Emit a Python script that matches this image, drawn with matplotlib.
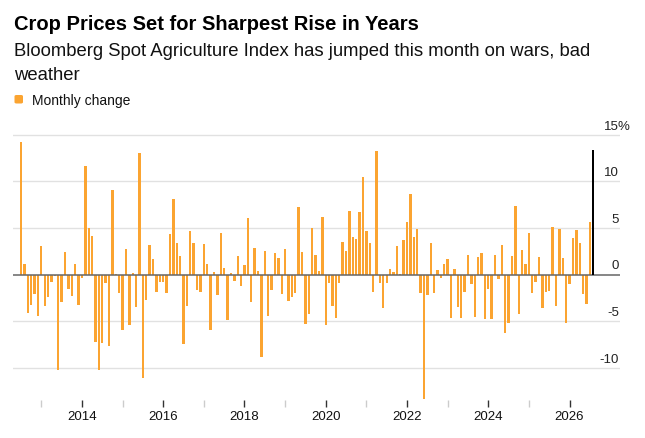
import matplotlib
matplotlib.use("Agg")
import matplotlib.pyplot as plt
import matplotlib.transforms as mtransforms
from matplotlib.patches import FancyBboxPatch
import pandas as pd

plt.rcParams['font.family'] = ['Liberation Sans', 'DejaVu Sans']

# monthly % change of the Bloomberg Spot Agriculture Index, Jul 2012 onwards
months = pd.date_range("2012-07-01", periods=170, freq="MS")
monthly_change = [
    14.25, 1.1, -4.1, -3.2, -2.1, -4.4, 3.1, -3.4, -2.4, -0.8,
    -0.1, -10.2, -2.9, 2.4, -1.5, -2.3, 1.1, -3.2, -0.4, 11.7,
    5.0, 4.1, -7.2, -10.2, -7.3, -0.9, -7.6, 9.1, 0.1, -2.0,
    -5.9, 2.8, -5.4, 0.2, -3.5, 13.1, -11.1, -2.7, 3.2, 1.7,
    -1.8, -0.8, -0.8, -2.0, 4.4, 8.1, 3.4, 2.0, -7.4, -3.4,
    4.7, 3.4, -1.6, -1.9, 3.3, 1.1, -5.9, 0.25, -2.2, 4.5,
    0.75, -4.9, 0.2, -0.65, 2.0, -1.2, 1.0, 6.1, -2.9, 2.9,
    0.4, -8.8, 2.5, -4.4, -1.6, 2.3, 1.75, -2.1, 2.8, -2.8,
    -2.4, -2.0, 7.3, 2.4, -5.25, -4.25, 5.0, 2.1, 0.4, 6.2,
    -5.35, -0.9, -3.3, -4.65, -0.9, 3.5, 2.5, 6.8, 4.0, 3.85,
    6.7, 10.5, 4.7, 3.35, -1.8, 13.3, -0.9, -3.6, -0.9, 0.6,
    0.3, 3.1, 0.05, 3.7, 5.7, 8.6, 4.0, 4.9, -2.0, -13.3,
    -2.2, 3.4, -2.0, 0.5, -0.4, 1.1, 1.65, -4.6, 0.6, -3.5,
    -4.6, -1.9, 2.1, -1.0, -4.5, 1.95, 2.3, -4.8, -1.5, -4.7,
    2.1, -0.5, 3.2, -6.2, -5.2, 2.0, 7.4, -4.25, 2.6, 1.15,
    4.5, -2.0, -0.75, 1.9, -3.6, -1.9, -1.7, 5.1, -3.4, 4.9,
    1.75, -5.2, -1.0, 3.9, 4.8, 3.4, -2.1, -3.1, 5.6, 13.4,
]
y_ticks = [15, 10, 5, 0, -5, -10]

orange = "#FBA431"
n = len(monthly_change)
x = list(range(n))

fig = plt.figure(figsize=(6.45, 4.39), dpi=100)
ax = fig.add_axes([13 / 645, 1 - 401 / 439, 607 / 645, 268 / 439])

# all months orange, the current month in black
ax.bar(x[:-1], monthly_change[:-1], width=0.7, color=orange, zorder=2)
ax.bar(x[-1:], monthly_change[-1:], width=0.55, color="black", zorder=4)

for v in y_ticks:
    if v == 0:
        ax.axhline(v, color="#666666", lw=1.1, zorder=3)
    else:
        ax.axhline(v, color="#e1e1e1", lw=1.0, zorder=1)

ax.set_xlim(-2.36, 176.9)
ax.set_ylim(-13.43, 15.3)

# y labels sit above the gridlines on the right
off = mtransforms.offset_copy(ax.transData, fig=fig, x=0, y=4.5, units="points")
tr = mtransforms.blended_transform_factory(ax.transAxes, off)
for v in y_ticks:
    ax.text(0.9984, v, str(v), transform=tr, ha="right", va="baseline",
            fontsize=9.5, color="#222222")
    if v == y_ticks[0]:
        ax.text(0.9960, v, "%", transform=tr, ha="left", va="baseline",
                fontsize=9.5, color="#222222")

ax.set_yticks([])
jan = [i for i, d in enumerate(months) if d.month == 1]
major = [i for i in jan if months[i].year % 2 == 0]
minor = [i for i in jan if months[i].year % 2 == 1]
ax.set_xticks(major)
ax.set_xticklabels([str(months[i].year) for i in major])
ax.set_xticks(minor, minor=True)
ax.tick_params(axis="x", which="major", length=5, width=1, color="#333333",
               labelsize=9.5, pad=2, labelcolor="#111111")
ax.tick_params(axis="x", which="minor", length=5, width=1, color="#cccccc")
for s in ax.spines.values():
    s.set_visible(False)

fig.text(13.6 / 645, 1 - 30 / 439, "Crop Prices Set for Sharpest Rise in Years",
         fontsize=14.5, fontweight="bold", ha="left", va="baseline")
fig.text(13.6 / 645, 1 - 56 / 439,
         "Bloomberg Spot Agriculture Index has jumped this month on wars, bad",
         fontsize=13.3, ha="left", va="baseline", color="#111111")
fig.text(13.6 / 645, 1 - 79.5 / 439, "weather",
         fontsize=13.3, ha="left", va="baseline", color="#111111")

fig.patches.append(FancyBboxPatch((14.5 / 645, 1 - 104.5 / 439), 8.5 / 645, 8.5 / 439,
                                  boxstyle="round,pad=0,rounding_size=0.003",
                                  transform=fig.transFigure, color=orange, lw=0))
fig.text(32 / 645, 1 - 104.5 / 439, "Monthly change", fontsize=10,
         ha="left", va="baseline", color="#111111")

fig.savefig("out.png", dpi=100)
